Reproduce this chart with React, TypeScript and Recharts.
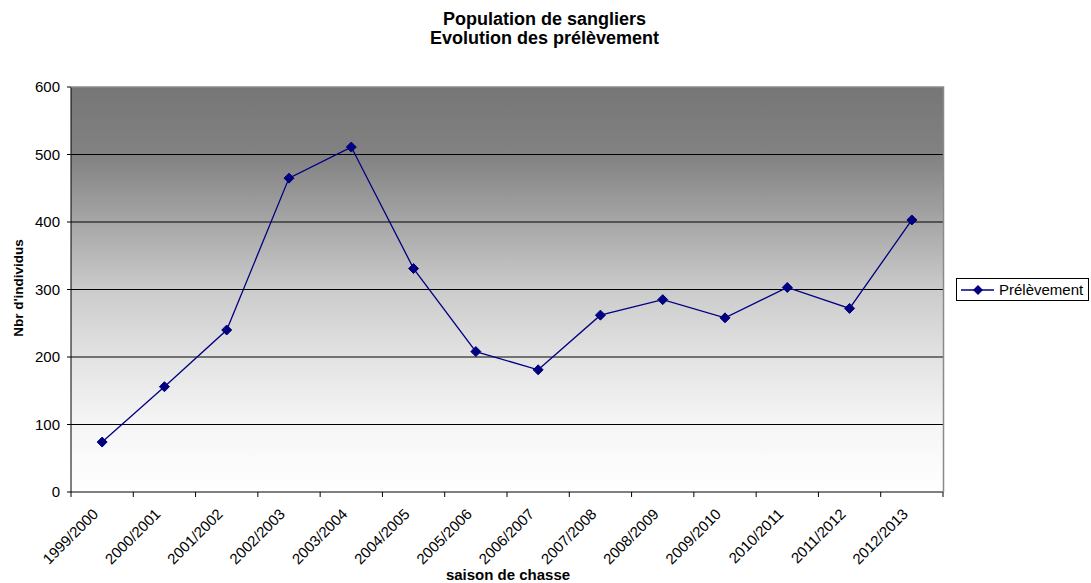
import React from 'react';
import {
  LineChart,
  Line,
  XAxis,
  YAxis,
  CartesianGrid,
} from 'recharts';

const seasons = [
  '1999/2000', '2000/2001', '2001/2002', '2002/2003', '2003/2004', '2004/2005', '2005/2006',
  '2006/2007', '2007/2008', '2008/2009', '2009/2010', '2010/2011', '2011/2012', '2012/2013',
];
const prelevement = [74, 156, 240, 465, 511, 331, 208, 181, 262, 285, 258, 303, 272, 403];
const yTicks = [0, 100, 200, 300, 400, 500, 600];

const data = seasons.map((s, i) => ({ x: i + 0.5, season: s, value: prelevement[i] }));
// ticks at category boundaries (for tick marks) and at centres (for labels)
const xTicks = Array.from({ length: seasons.length * 2 + 1 }, (_, i) => i / 2);

const NAVY = '#000080';
const FONT = '"Liberation Sans", Arial, sans-serif';

const Diamond = (props: any) => {
  const { cx, cy } = props;
  if (cx == null || cy == null) return null;
  const r = 5;
  return (
    <path
      d={`M${cx},${cy - r} L${cx + r},${cy} L${cx},${cy + r} L${cx - r},${cy} Z`}
      fill={NAVY}
      stroke={NAVY}
    />
  );
};

const XTick = (props: any) => {
  const { x, y, payload } = props;
  const v = payload.value;
  if (Number.isInteger(v)) {
    return <line x1={x} y1={y - 8} x2={x} y2={y - 3} stroke="#000" strokeWidth={1} />;
  }
  const label = seasons[Math.floor(v)];
  const ax = x - 3;
  const ay = y + 15;
  return (
    <text
      x={ax}
      y={ay}
      textAnchor="end"
      fontSize={15}
      fontFamily={FONT}
      fill="#000"
      transform={`rotate(-45, ${ax}, ${ay})`}
    >
      {label}
    </text>
  );
};

export default function App() {
  return (
    <div style={{ width: 1091, height: 583, position: 'relative', background: '#fff' }}>
      <style>{'body{margin:0}'}</style>
      <LineChart
        width={1091}
        height={583}
        data={data}
        margin={{ top: 87, right: 148, bottom: 31, left: 21 }}
      >
        <defs>
          <linearGradient id="bgGrad" x1="0" y1="0" x2="0" y2="1">
            <stop offset="0%" stopColor="#767676" />
            <stop offset="17%" stopColor="#828282" />
            <stop offset="50%" stopColor="#cbcbcb" />
            <stop offset="67%" stopColor="#e3e3e3" />
            <stop offset="83%" stopColor="#f5f5f5" />
            <stop offset="100%" stopColor="#ffffff" />
          </linearGradient>
        </defs>
        <CartesianGrid
          vertical={false}
          stroke="#000"
          strokeWidth={1}
          fill="url(#bgGrad)"
          fillOpacity={1}
          horizontalValues={[100, 200, 300, 400, 500]}
        />
        <XAxis
          dataKey="x"
          type="number"
          domain={[0, 14]}
          ticks={xTicks}
          interval={0}
          height={60}
          axisLine={{ stroke: '#000' }}
          tickLine={false}
          tick={<XTick />}
          allowDecimals
        />
        <YAxis
          domain={[0, 600]}
          ticks={yTicks}
          width={50}
          axisLine={{ stroke: '#000' }}
          tickLine={{ stroke: '#000' }}
          tickSize={4}
          tickMargin={7}
          tick={{ fill: '#000', fontSize: 15, fontFamily: FONT }}
          interval={0}
        />
        <Line
          type="linear"
          dataKey="value"
          name="Prélèvement"
          stroke={NAVY}
          strokeWidth={1.3}
          dot={<Diamond />}
          activeDot={false}
          isAnimationActive={false}
        />
      </LineChart>
      {/* grey frame on the top and right of the plot area */}
      <svg
        width={1091}
        height={583}
        style={{ position: 'absolute', left: 0, top: 0, pointerEvents: 'none' }}
      >
        <polyline points="71,87 943.5,87 943.5,492" fill="none" stroke="#8a8a8a" strokeWidth={1.5} />
      </svg>
      <div
        style={{
          position: 'absolute',
          left: 956,
          top: 278,
          border: '1px solid #000',
          background: '#fff',
          width: 133,
          height: 23,
          display: 'flex',
          alignItems: 'center',
          fontFamily: FONT,
          fontSize: 15,
          boxSizing: 'border-box',
        }}
      >
        <svg width={34} height={12} style={{ marginLeft: 4 }}>
          <line x1={0} y1={6} x2={33} y2={6} stroke={NAVY} strokeWidth={1.3} />
          <path d="M17,1 L22,6 L17,11 L12,6 Z" fill={NAVY} />
        </svg>
        <span style={{ marginLeft: 4 }}>Prélèvement</span>
      </div>
      <div
        style={{
          position: 'absolute',
          top: 10,
          left: 0,
          width: 1089,
          textAlign: 'center',
          fontFamily: FONT,
          fontWeight: 'bold',
          fontSize: 18,
          lineHeight: '19px',
        }}
      >
        Population de sangliers
        <br />
        Evolution des prélèvement
      </div>
      <div
        style={{
          position: 'absolute',
          top: 566,
          left: 71,
          width: 874,
          textAlign: 'center',
          fontFamily: FONT,
          fontWeight: 'bold',
          fontSize: 15,
          lineHeight: '17px',
        }}
      >
        saison de chasse
      </div>
      <div
        style={{
          position: 'absolute',
          left: 18,
          top: 288,
          transform: 'translate(-50%, -50%) rotate(-90deg)',
          whiteSpace: 'nowrap',
          fontFamily: FONT,
          fontWeight: 'bold',
          fontSize: 13.5,
        }}
      >
        Nbr d'individus
      </div>
    </div>
  );
}
